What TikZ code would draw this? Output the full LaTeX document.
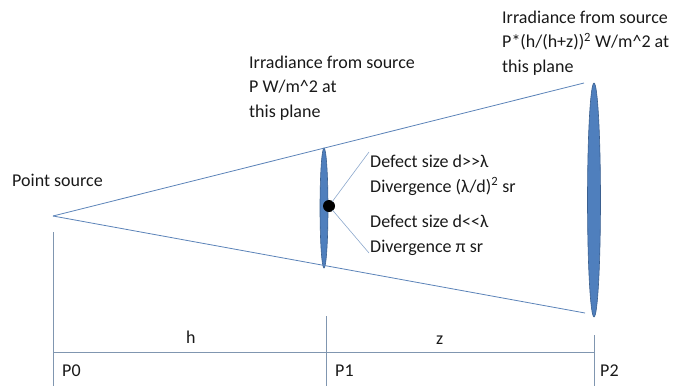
\documentclass[tikz,border=0pt]{standalone}
\usepackage{fontspec}
\setmainfont{Carlito}
\definecolor{ray}{HTML}{5B83B8}
\definecolor{lensfill}{HTML}{4F7FBD}
\definecolor{lensdraw}{HTML}{3A5F8F}
\definecolor{tick}{HTML}{8096B0}
\begin{document}
\begin{tikzpicture}[x=1pt,y=-1pt,
  lbl/.style={inner sep=0pt,anchor=base west,align=left,font=\fontsize{18}{24.5}\selectfont,text=black!90},
  rayline/.style={draw=ray,line width=0.8pt},
  tickline/.style={draw=tick,line width=0.8pt},
]
\useasboundingbox (0,0) rectangle (675,386);
% apex and lenses
\coordinate (apex) at (53,216);
\fill[lensfill,draw=lensdraw,line width=0.6pt] (324,208) ellipse (4 and 60);
\fill[lensfill,draw=lensdraw,line width=0.6pt] (594,200) ellipse (6.5 and 117);
\coordinate (p2t) at (584,83);
\coordinate (p2b) at (585,313);
\draw[rayline] (apex) -- (p2t);
\draw[rayline] (apex) -- (p2b);
% defect dot and pointers
\coordinate (d1) at (369,152);
\coordinate (d2) at (369,253);
\node[circle,fill=black,inner sep=0pt,minimum size=12pt] (dot) at (329,206) {};
\draw[draw=ray!70,line width=0.6pt] (dot.center) -- (d1);
\draw[draw=ray!70,line width=0.6pt] (dot.center) -- (d2);
\fill[black] (dot.center) circle (5.5);
% texts
\node[lbl] (ps) at (12,186) {Point source};
\node[lbl] (irr1) at (249,117) {Irradiance from source\\P W/m\^{}2 at\\this plane};
\node[lbl] (irr2) at (502,72) {Irradiance from source\\P*(h/(h+z))\textsuperscript{2} W/m\^{}2 at\\this plane};
\node[lbl] (def1) at (370,192) {Defect size d{>}{>}λ\\Divergence (λ/d)\textsuperscript{2} sr};
\node[lbl] (def2) at (370,252) {Defect size d{<}{<}λ\\Divergence π sr};
% dimension lines
\coordinate (a0) at (53,232);
\coordinate (b0) at (53,386);
\coordinate (a1) at (326,316);
\coordinate (b1) at (326,386);
\coordinate (a2) at (594,335);
\coordinate (b2) at (594,386);
\coordinate (h0) at (53,352);
\coordinate (h2) at (594,352);
\draw[tickline] (a0) -- (b0);
\draw[tickline] (a1) -- (b1);
\draw[tickline] (a2) -- (b2);
\draw[tickline] (h0) -- (h2);
\node[lbl] (h) at (186,343) {h};
\node[lbl] (z) at (436,344) {z};
\node[lbl] (P0) at (62,376) {P0};
\node[lbl] (P1) at (335,376) {P1};
\node[lbl] (P2) at (600,376) {P2};
\end{tikzpicture}
\end{document}
